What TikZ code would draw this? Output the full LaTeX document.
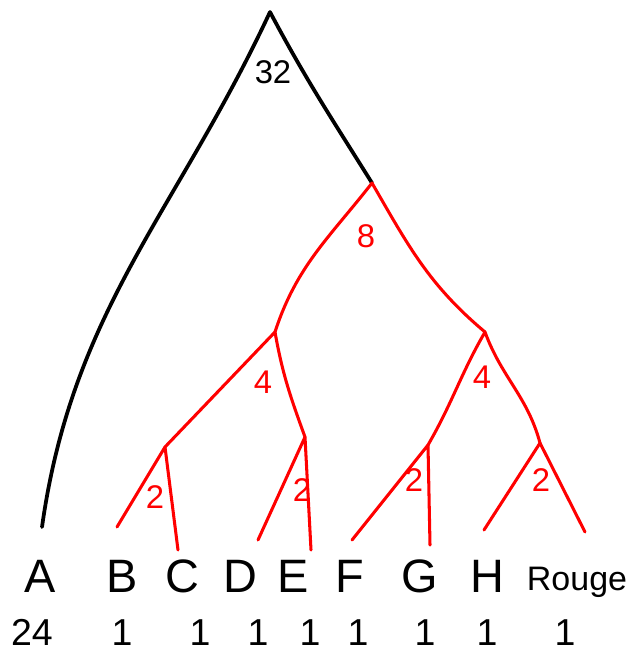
\documentclass[tikz,border=0pt]{standalone}
\usepackage{fontspec}
\setmainfont{Liberation Sans}
\usepackage{xcolor}
\usepackage{tikz}
\usetikzlibrary{positioning}

\begin{document}
\begin{tikzpicture}[x=0.03cm,y=-0.03cm,
    trunk/.style={line width=3.2pt,line cap=round,line join=round},
    sub/.style={trunk,red,line width=2.6pt},
    weight/.style={font=\fontsize{28}{28}\selectfont},
    leafname/.style={font=\fontsize{40}{40}\selectfont,anchor=base},
    count/.style={font=\fontsize{32}{32}\selectfont,anchor=base}]
    \useasboundingbox (0,0) rectangle (628,669);

    % black part of the tree
    \coordinate (top) at (270,12);
    \coordinate (endA) at (42,527);
    \coordinate (n8) at (372,183);
    \draw[trunk] (endA) to[out=82,in=-115] (top) to[out=-62,in=122] (n8);
    \node[weight] (w32) at (273,72) {32};

    % red subtree
    \coordinate (n4a) at (275,332);
    \coordinate (n4b) at (485,332);
    \coordinate (n2a) at (165,447);
    \coordinate (n2b) at (305,437);
    \coordinate (n2c) at (428,445);
    \coordinate (n2d) at (540,443);
    \draw[sub] (n4a) to[out=72,in=-128] (n8) to[out=-60,in=140] (n4b);
    \draw[sub] (n2a) -- (n4a) to[out=-80,in=110] (n2b);
    \draw[sub] (n2c) to[out=60,in=-120] (n4b) to[out=-70,in=105] (n2d);
    \node[weight,red] (w8) at (366,236) {8};
    \node[weight,red] (w4a) at (263,382) {4};
    \node[weight,red] (w4b) at (482,377) {4};

    % leaves of the red subtree
    \foreach \n/\lx/\ly/\rx/\ry/\wx/\wy in {n2a/117/527/178/550/155/497,
                                            n2b/258/540/311/550/302/490,
                                            n2c/352/540/430/545/414/480,
                                            n2d/484/530/585/532/541/480} {
        \coordinate (\n l) at (\lx,\ly);
        \coordinate (\n r) at (\rx,\ry);
        \draw[sub] (\n l) -- (\n) -- (\n r);
        \node[weight,red] (\n w) at (\wx,\wy) {2};
    }

    % leaf names and counts
    \foreach \name/\x/\cx/\c in {A/40/122/1,B/122/200/1,C/182/258/1,D/240/310/1,
                                 E/293/358/1,F/350/425/1,G/420/487/1,H/487/565/1} {
        \node[leafname] (leaf\name) at (\x,592) {\name};
        \node[count] (cnt\name) at (\cx,645) {\c};
    }
    \node[leafname,font=\fontsize{29}{29}\selectfont] (leafRouge) at (577,590) {Rouge};
    \node[count] (cntA0) at (32,645) {24};
\end{tikzpicture}
\end{document}
